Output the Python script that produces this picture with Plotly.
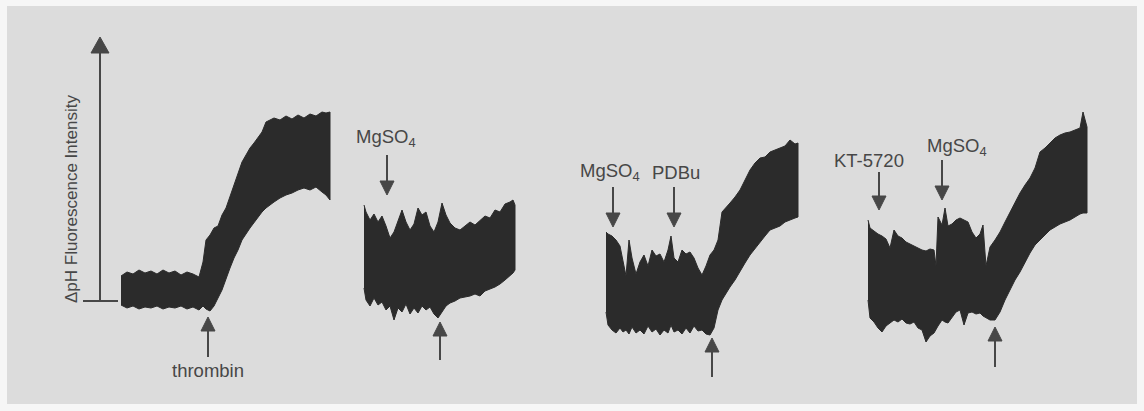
import plotly.graph_objects as go

# ---- data (x: time position, y: signal level; axis y reversed) ----
t1_x = [121,127,133,139,145,151,157,163,169,175,181,187,193,199,203,206,210,214,218,222,226,230,234,238,242,246,250,254,258,262,266,270,274,280,286,292,298,304,310,316,322,326,330]
t1_hi = [276,272,274,270,273,271,274,270,273,271,275,272,274,277,262,240,235,228,226,215,208,196,185,172,162,155,148,143,138,132,122,120,118,120,116,119,115,118,114,116,112,113,112]
t1_lo = [305,308,306,309,307,308,306,309,307,308,306,309,307,310,306,309,311,306,298,290,280,268,258,250,240,234,228,222,217,212,208,205,202,198,195,193,190,188,190,187,192,195,200]

t2_x = [364,366,370,374,378,382,386,390,394,398,402,406,410,414,418,422,426,430,434,438,442,446,450,455,460,465,470,475,480,485,490,495,500,505,510,513,515]
t2_hi = [205,212,220,214,222,216,226,238,232,220,210,222,230,224,208,215,212,226,232,222,203,215,223,228,230,226,222,225,220,216,218,210,212,204,202,200,205]
t2_lo = [288,300,306,298,305,302,310,306,320,308,312,304,314,308,313,306,310,307,314,318,312,306,303,301,298,297,296,294,296,291,289,287,284,280,276,273,270]

t3_x = [606,608,612,616,620,623,626,629,632,636,640,644,648,652,656,660,664,668,671,674,678,682,686,690,694,698,702,706,710,714,718,722,726,730,735,740,745,750,755,760,765,770,775,780,785,790,795,798]
t3_hi = [232,234,236,240,246,262,276,240,258,274,262,255,266,250,256,254,262,250,236,258,262,250,254,252,258,268,275,266,255,250,240,212,208,203,197,190,180,170,163,158,157,152,150,148,146,140,144,143]
t3_lo = [312,325,330,333,328,332,330,334,327,333,330,334,326,332,329,335,330,333,325,332,330,334,328,333,326,331,330,334,335,328,310,300,293,287,280,272,263,255,248,242,236,230,228,226,222,220,218,217]

t4_x = [868,870,874,878,882,886,890,894,898,902,906,910,914,918,922,926,930,934,936,938,942,945,948,952,956,960,964,968,972,976,980,983,986,990,995,1000,1005,1010,1015,1020,1025,1030,1035,1040,1045,1050,1055,1060,1065,1070,1075,1080,1083,1087]
t4_hi = [220,228,231,234,236,239,248,230,236,238,242,244,246,248,250,251,249,250,266,217,225,208,226,224,220,218,220,222,232,238,234,225,266,247,240,232,222,212,202,193,185,178,168,152,148,143,138,135,133,132,130,128,112,127]
t4_lo = [300,318,322,328,332,326,323,320,322,319,323,324,322,328,330,342,336,333,330,326,320,322,323,318,312,310,325,313,312,314,313,316,318,320,320,312,300,290,280,272,263,253,245,240,235,230,227,224,222,220,217,214,213,213]

# event markers: (label, arrow x, tip y, tail y, label x, label y)
down_events = [
    ("MgSO<sub>4</sub>", 387, 195, 155, 386, 138),
    ("MgSO<sub>4</sub>", 613, 227, 187, 610, 172),
    ("PDBu",             674, 227, 187, 676, 172),
    ("KT-5720",          879, 210, 172, 869, 160),
    ("MgSO<sub>4</sub>", 942, 200, 160, 957, 147),
]
up_events = [
    ("thrombin", 208, 317, 357, 208, 370),
    ("",         440, 322, 360, None, None),
    ("",         712, 338, 377, None, None),
    ("",         995, 327, 367, None, None),
]
# scale bar: x, top (tip), bottom, tick from/to
scale_x, scale_top, scale_bottom = 100, 37, 301
scale_tick = (83, 118)
y_axis_label = "ΔpH Fluorescence Intensity"

TRACE_C = "#2b2b2b"
INK = "#474747"
PANEL = "#dcdcdc"
PAPER = "#f6f6f6"
FONT = "Liberation Sans, Arial, sans-serif"
LABEL_SIZE = 18.5
HEAD_W, HEAD_H = 14, 14

fig = go.Figure()
for xs, hi, lo in [(t1_x, t1_hi, t1_lo), (t2_x, t2_hi, t2_lo), (t3_x, t3_hi, t3_lo), (t4_x, t4_hi, t4_lo)]:
    fig.add_trace(go.Scatter(
        x=xs + xs[::-1], y=hi + lo[::-1], mode="lines", fill="toself",
        fillcolor=TRACE_C, line=dict(color=TRACE_C, width=1), hoverinfo="skip", showlegend=False))

shapes = []
ann = []


def arrow(x, tip, tail, hw, hh):
    # direction: +1 if pointing downward (tip below tail in reversed axis)
    d = 1 if tip > tail else -1
    base = tip - d * hh
    shapes.append(dict(type="line", xref="x", yref="y", x0=x, x1=x, y0=tail, y1=base,
                       line=dict(color=INK, width=2)))
    shapes.append(dict(type="path", xref="x", yref="y",
                       path=f"M {x - hw / 2},{base} L {x + hw / 2},{base} L {x},{tip} Z",
                       fillcolor=INK, line=dict(color=INK, width=1)))


# vertical scale arrow + baseline tick
arrow(scale_x, scale_top, scale_bottom, 18, 16)
shapes.append(dict(type="line", xref="x", yref="y", x0=scale_tick[0], x1=scale_tick[1],
                   y0=scale_bottom, y1=scale_bottom, line=dict(color=INK, width=2)))
ann.append(dict(x=71, y=199, xref="x", yref="y", text=y_axis_label, textangle=-90, showarrow=False,
                font=dict(family=FONT, size=17, color=INK)))

for lab, ax_, tip, tail, lx, ly in down_events + up_events:
    arrow(ax_, tip, tail, HEAD_W, HEAD_H)
    if lab:
        ann.append(dict(x=lx, y=ly, xref="x", yref="y", text=lab, showarrow=False,
                        font=dict(family=FONT, size=LABEL_SIZE, color=INK)))

fig.update_layout(
    width=1144, height=411,
    margin=dict(l=7, r=7, t=6, b=7),
    paper_bgcolor=PAPER, plot_bgcolor=PANEL,
    xaxis=dict(range=[7, 1137], visible=False, fixedrange=True),
    yaxis=dict(range=[404, 6], visible=False, fixedrange=True),
    shapes=shapes,
    annotations=ann,
    showlegend=False,
)
fig.write_html("out.html", config={"displayModeBar": False})
